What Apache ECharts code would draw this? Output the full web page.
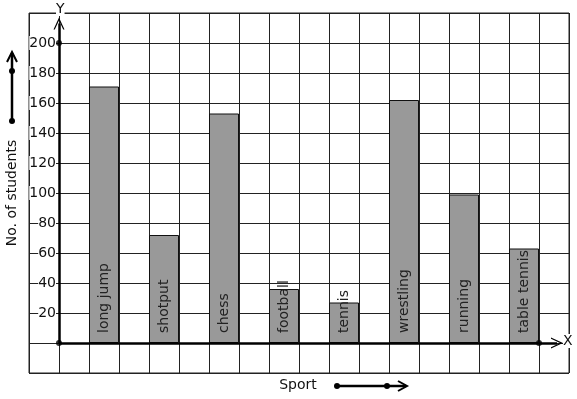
<!DOCTYPE html>
<html>
<head>
<meta charset="utf-8">
<script src="https://cdn.jsdelivr.net/npm/echarts@6/dist/echarts.min.js"></script>
<style>
  html, body { margin: 0; padding: 0; background: #fff; }
  #chart { width: 577px; height: 399px; }
</style>
</head>
<body>
<div id="chart"></div>
<script>
// data
var sports = ['long jump', 'shotput', 'chess', 'football', 'tennis', 'wrestling', 'running', 'table tennis'];
var students = [171, 72, 153, 36, 27, 162, 99, 63];
var yTicks = [20, 40, 60, 80, 100, 120, 140, 160, 180, 200];
var axisDots = [[0, 0], [0, 200], [16, 0]];

var chevron = 'path://M0,12 L6,0 L12,12 L10.6,12 L6,3 L1.4,12 Z';
var font = 'DejaVu Sans';

var myChart = echarts.init(document.getElementById('chart'));

// each bar sits in a 2-unit slot, one unit wide
var barData = sports.map(function (name, i) {
    return { name: name, value: [i * 2 + 1.5, students[i]] };
});

var option = {
    animation: false,
    grid: {
        left: 29, right: 8, top: 13, bottom: 26,
        containLabel: false,
        outerBoundsMode: 'none',
        show: true, borderColor: '#222', borderWidth: 1
    },
    xAxis: {
        type: 'value',
        min: -1, max: 17, interval: 1,
        axisLine: { show: false, onZero: false },
        axisTick: { show: false },
        axisLabel: { show: false },
        splitLine: { show: true, lineStyle: { color: '#222', width: 1 } }
    },
    yAxis: {
        type: 'value',
        min: -20, max: 220, interval: 20,
        offset: -30,
        axisLine: { show: false, onZero: false },
        axisTick: { show: false },
        axisLabel: {
            margin: 3,
            fontSize: 14,
            fontFamily: font,
            color: '#111',
            backgroundColor: '#fff',
            formatter: function (v) {
                return yTicks.indexOf(v) >= 0 ? String(v) : '';
            }
        },
        splitLine: { show: true, lineStyle: { color: '#222', width: 1 } }
    },
    series: [
        {
            type: 'bar',
            data: barData,
            barWidth: 30,
            itemStyle: { color: '#999999', borderColor: '#111', borderWidth: 1 },
            label: {
                show: true,
                position: 'insideBottom',
                rotate: 90,
                align: 'left',
                verticalAlign: 'middle',
                distance: 10,
                fontSize: 14,
                fontFamily: font,
                color: '#222',
                formatter: '{b}'
            },
            markLine: {
                silent: true,
                symbol: ['none', chevron],
                symbolSize: [11, 12],
                label: { show: false },
                lineStyle: { color: '#000', width: 2.5, type: 'solid' },
                data: [
                    [{ coord: [0, 0] }, { coord: [16.6, 0] }],
                    [{ coord: [0, 0] }, { coord: [0, 213] }]
                ]
            }
        },
        {
            type: 'scatter',
            data: axisDots,
            symbolSize: 6,
            itemStyle: { color: '#000' },
            silent: true,
            z: 5
        }
    ],
    graphic: [
        { type: 'text', left: 56, top: 2, z: 10,
          style: { text: 'Y', fontSize: 14, fontFamily: font, fill: '#111', backgroundColor: '#fff' } },
        { type: 'text', left: 563, top: 334, z: 10,
          style: { text: 'X', fontSize: 14, fontFamily: font, fill: '#111', backgroundColor: '#fff' } },
        { type: 'text', x: 12, y: 193, rotation: Math.PI / 2,
          style: { text: 'No. of students', fontSize: 14, fontFamily: font, fill: '#111',
                   align: 'center', verticalAlign: 'middle' } },
        { type: 'text', x: 298, y: 385,
          style: { text: 'Sport', fontSize: 14, fontFamily: font, fill: '#111',
                   align: 'center', verticalAlign: 'middle' } },
        // decorative arrow on the left
        { type: 'line', shape: { x1: 12, y1: 121, x2: 12, y2: 53 }, style: { stroke: '#000', lineWidth: 2.5 } },
        { type: 'polyline', shape: { points: [[7, 62], [12, 52], [17, 62]] }, style: { stroke: '#000', lineWidth: 2, fill: null } },
        { type: 'circle', shape: { cx: 12, cy: 121, r: 3 }, style: { fill: '#000' } },
        { type: 'circle', shape: { cx: 12, cy: 71, r: 3 }, style: { fill: '#000' } },
        // decorative arrow at the bottom
        { type: 'line', shape: { x1: 337, y1: 386, x2: 406, y2: 386 }, style: { stroke: '#000', lineWidth: 2.5 } },
        { type: 'polyline', shape: { points: [[398, 381], [407, 386], [398, 391]] }, style: { stroke: '#000', lineWidth: 2, fill: null } },
        { type: 'circle', shape: { cx: 337, cy: 386, r: 3 }, style: { fill: '#000' } },
        { type: 'circle', shape: { cx: 387, cy: 386, r: 3 }, style: { fill: '#000' } }
    ]
};

myChart.setOption(option);
</script>
</body>
</html>
